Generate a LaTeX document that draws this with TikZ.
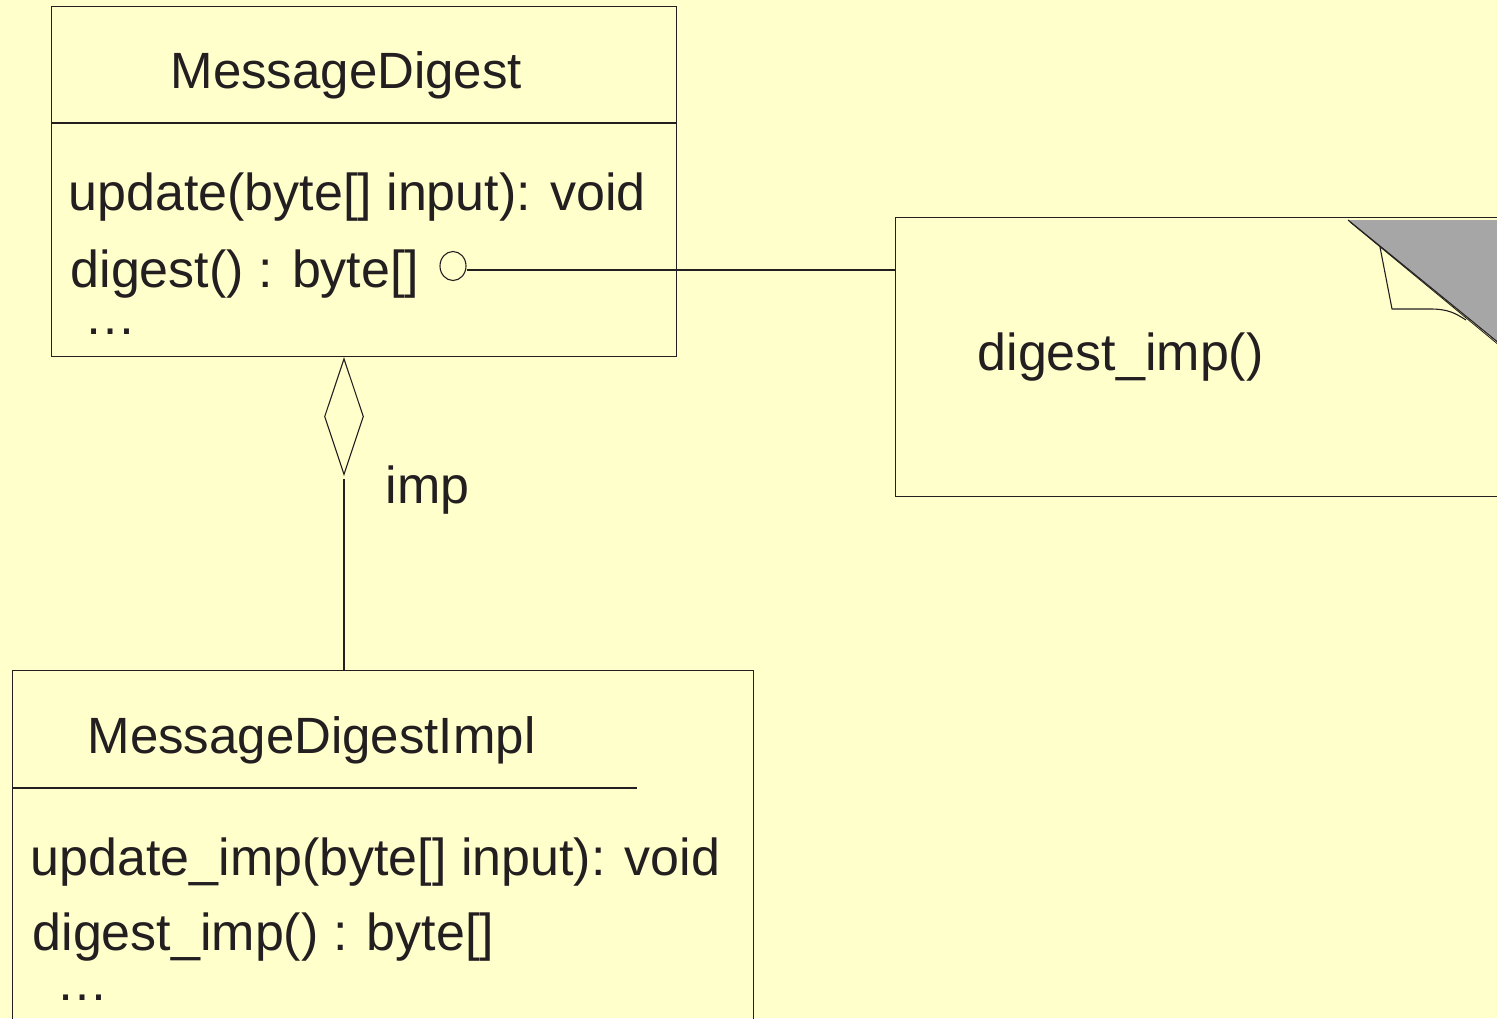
\documentclass[tikz,border=0pt]{standalone}
\usepackage{fontspec}
\setmainfont{Liberation Sans}
\usetikzlibrary{shapes.geometric}
\definecolor{bg}{RGB}{255,255,204}
\definecolor{ink}{RGB}{35,31,32}
\definecolor{fold}{RGB}{166,166,166}
\begin{document}
\begin{tikzpicture}[x=1pt,y=-1pt,
  line width=1.1pt, draw=ink,
  txt/.style={anchor=base west, inner sep=0pt, text=ink, font=\fontsize{52}{58}\selectfont},
  ttl/.style={txt, font=\fontsize{51}{58}\selectfont},
  box/.style={draw=ink, line width=1.1pt, anchor=north west, inner sep=0pt},
  diam/.style={draw=ink, line width=1.1pt, diamond, inner sep=0pt, minimum width=39pt, minimum height=116pt, anchor=north},
  port/.style={draw=ink, line width=1.1pt, ellipse, inner sep=0pt, minimum width=26pt, minimum height=29pt}
]
\path[use as bounding box, fill=bg] (0,0) rectangle (1497,1018);
\clip (0,0) rectangle (1497,1018);

% MessageDigest class
\node[box, minimum width=625pt, minimum height=350pt] (md) at (51,6) {};
\coordinate (mdsepL) at (51,123);
\coordinate (mdsepR) at (676,123);
\draw (mdsepL) -- (mdsepR);
\node[ttl] (mdname) at (170,88) {MessageDigest};
\node[txt] (mdupd) at (68,210) {update(byte[] input): void};
\node[txt] (mddig) at (70,287) {digest() : byte[]};
\node[txt] (mddots) at (84,334) {…};

% port circle and link to note
\node[port] (circ) at (453,266) {};

% note
\node[box, minimum width=640pt, minimum height=279pt] (note) at (895,217) {};
\node[txt] (notetxt) at (977,370) {digest\_imp()};
\draw (circ.east) ++(0,4) coordinate (cstart) -- (cstart -| note.west);
% folded corner
\coordinate (f1) at (1348,220);
\coordinate (f2) at (1500,220);
\coordinate (f3) at (1500,344);
\fill[fold] (f1) -- (f2) -- (f3) -- cycle;
\draw (f1) -- (f3);
\draw[line width=0.8pt] (1350,222) -- (1500,346);
\draw (1380,247) -- (1392,309) -- (1430,309) .. controls (1448,309) and (1455,313) .. (1466,320);

% aggregation diamond
\node[diam] (dia) at (344,358) {};
\node[txt] (imp) at (385,503) {imp};

% MessageDigestImpl class
\node[box, minimum width=741pt, minimum height=380pt] (impl) at (12,670) {};
\coordinate (imsepL) at (12,788);
\coordinate (imsepR) at (637,788);
\draw (imsepL) -- (imsepR);
\node[ttl] (implname) at (87,753) {MessageDigestImpl};
\node[txt] (implupd) at (30,875) {update\_imp(byte[] input): void};
\node[txt] (impldig) at (32,950) {digest\_imp() : byte[]};
\node[txt] (impldots) at (56,1000) {…};

\draw (dia.south) ++(0,4) coordinate (dstart) -- (dstart |- impl.north);
\end{tikzpicture}
\end{document}
